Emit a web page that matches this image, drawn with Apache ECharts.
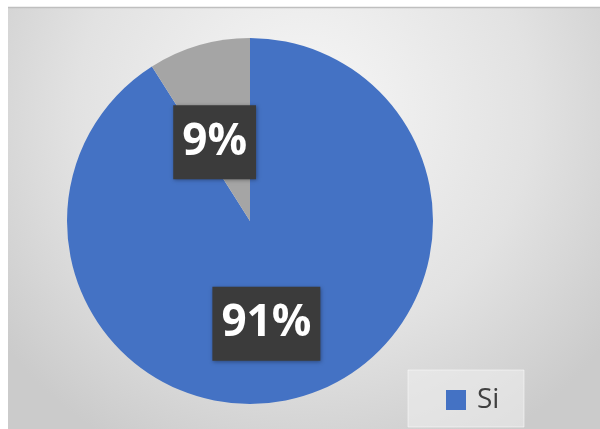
<!DOCTYPE html>
<html><head><meta charset="utf-8">
<script src="https://cdn.jsdelivr.net/npm/echarts@6/dist/echarts.min.js"></script>
<style>html,body{margin:0;padding:0;background:#fff;}#c{width:600px;height:429px;}</style>
</head><body><div id="c"></div>
<script>
const categories = ['Si', 'No'];
const values = [91, 9];
const colors = ['#4472C4', '#A5A5A5'];
const legendItems = ['Si'];
const labelOffsets = [[-10, 12], [-9, 12]];

const chart = echarts.init(document.getElementById('c'));
chart.setOption({
  animation: false,
  graphic: [
    { type: 'rect', z: -10, shape: { x: 8, y: 7, width: 592, height: 422 },
      style: { fill: new echarts.graphic.RadialGradient(0.5, 0.25, 0.9, [
        { offset: 0, color: '#f7f7f7' }, { offset: 0.6, color: '#e2e2e2' }, { offset: 1, color: '#cbcbcb' }]) } },
    { type: 'line', z: -9, shape: { x1: 8, y1: 7.5, x2: 600, y2: 7.5 }, style: { stroke: '#bfbfbf', lineWidth: 1.5 } },
    { type: 'rect', z: -8, shape: { x: 408, y: 370, width: 116, height: 57 },
      style: { fill: 'rgba(240,240,240,0.55)', stroke: 'rgba(255,255,255,0.5)', lineWidth: 1 } }
  ],
  legend: {
    data: legendItems,
    left: 441, top: 381,
    itemWidth: 20, itemHeight: 20,
    icon: 'rect',
    textStyle: { fontSize: 28, color: '#404040', fontFamily: 'Open Sans', padding: [0, 0, 0, 6] }
  },
  series: [{
    type: 'pie',
    center: [250, 221],
    radius: 183,
    startAngle: 90,
    clockwise: true,
    label: {
      show: true, position: 'inside',
      formatter: '{d}%',
      color: '#ffffff', fontSize: 44, fontWeight: 'bold', fontFamily: 'Open Sans',
      backgroundColor: '#3b3b3b', padding: [16, 9, 14, 9],
      shadowColor: 'rgba(0,0,0,0.35)', shadowBlur: 4, shadowOffsetX: 1, shadowOffsetY: 1
    },
    labelLine: { show: false },
    emphasis: { disabled: true },
    itemStyle: { borderWidth: 0 },
    data: categories.map((c, i) => ({
      name: c, value: values[i], itemStyle: { color: colors[i] },
      label: { offset: labelOffsets[i] }
    }))
  }]
});
</script></body></html>
